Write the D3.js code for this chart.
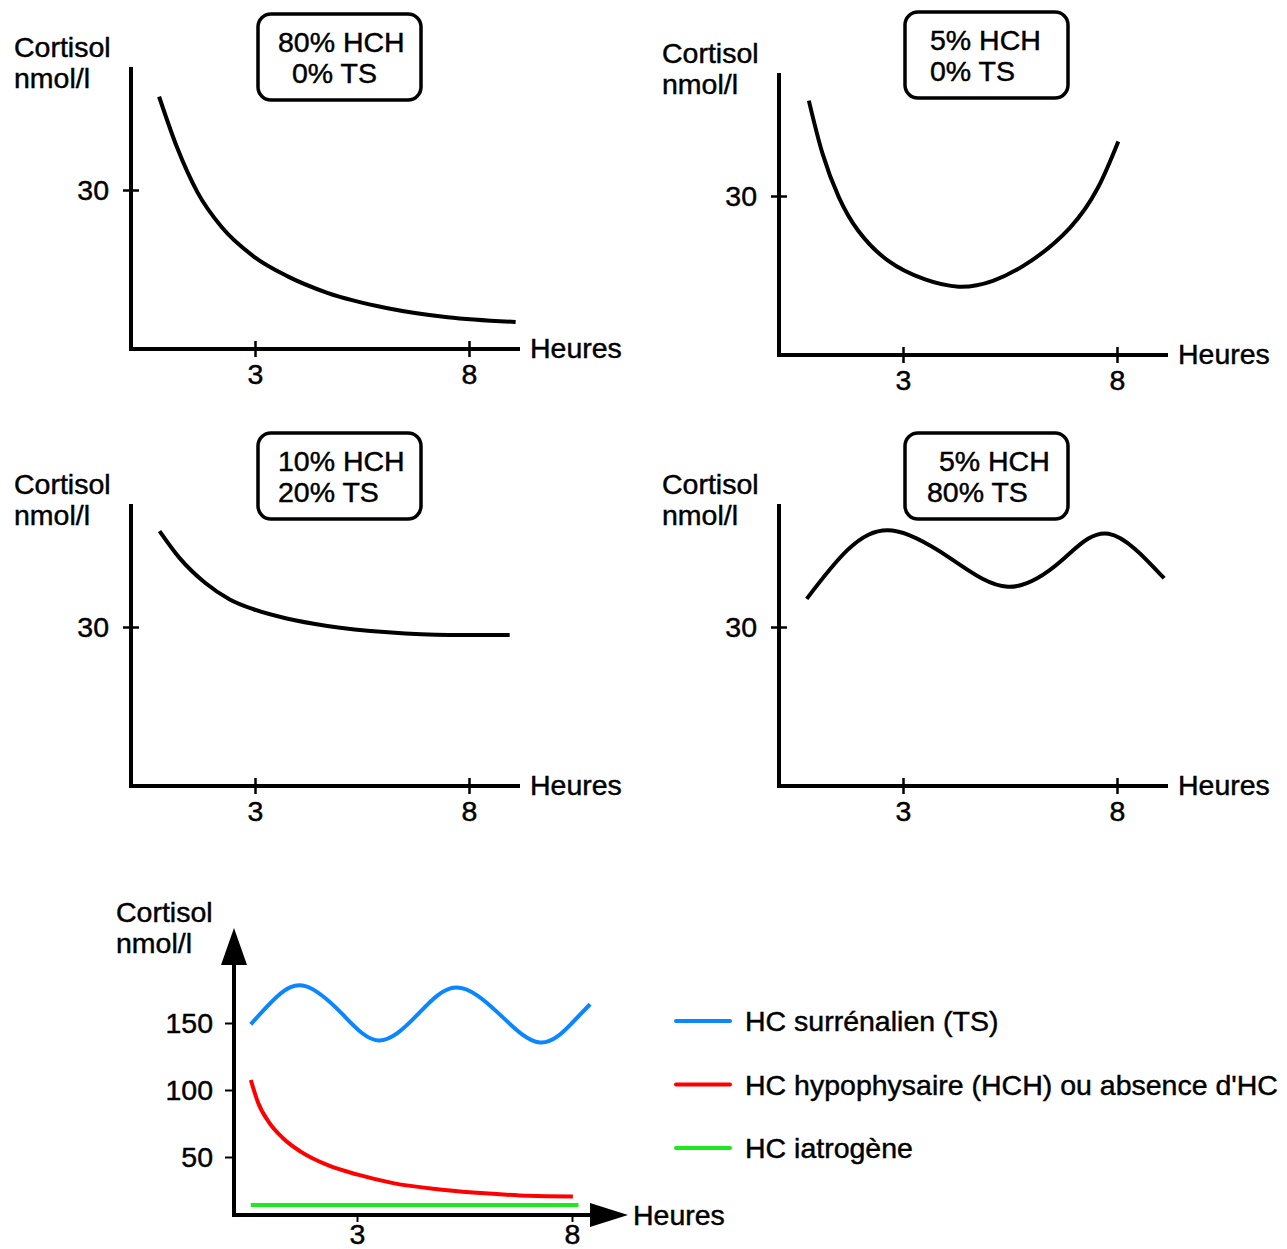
<!DOCTYPE html>
<html>
<head>
<meta charset="utf-8">
<script src="https://cdn.jsdelivr.net/npm/d3@7"></script>
<style>
  html, body { margin: 0; padding: 0; background: #fff; }
  svg text { font-family: "Liberation Sans", Arial, sans-serif; fill: #000; stroke: #000; stroke-width: 0.45px; }
</style>
</head>
<body>
<svg id="chart" width="1287" height="1249"></svg>
<script>
// ---------------- DATA ----------------
const xTickValues = [3, 8];
const yTickValuesSmall = [30];
const yTickValuesBottom = [50, 100, 150];
const yAxisTitle = ["Cortisol", "nmol/l"];
const xAxisTitle = "Heures";

// Panel 1 : 80% HCH / 0% TS
const p1Label = ["80% HCH", "0% TS"];
const p1Hours = [0.76, 1.18, 1.66, 2.22, 2.98, 3.74, 4.69, 6.1, 7.5, 9.09];
const p1Values = [47.6, 38.0, 29.5, 23.0, 17.4, 13.8, 10.6, 7.7, 6.0, 5.1];

// Panel 2 : 5% HCH / 0% TS
const p2Label = ["5% HCH", "0% TS"];
const p2Hours = [0.8, 1.12, 1.5, 1.95, 2.65, 3.5, 4.3, 5.1, 6.0, 6.9, 7.55, 8.03];
const p2Values = [48.0, 38.0, 29.8, 23.5, 17.8, 14.3, 12.9, 14.0, 17.8, 24.0, 31.5, 40.3];

// Panel 3 : 10% HCH / 20% TS
const p3Label = ["10% HCH", "20% TS"];
const p3Hours = [0.77, 1.24, 1.84, 2.41, 2.98, 3.74, 4.69, 6.11, 7.53, 8.95];
const p3Values = [48.1, 43.0, 38.3, 35.2, 33.3, 31.6, 30.2, 29.0, 28.5, 28.5];

// Panel 4 : 5% HCH / 80% TS
const p4Label = [" 5% HCH", "80% TS"];
const p4Hours = [0.75, 1.7, 2.75, 4.1, 5.45, 6.7, 7.8, 9.1];
const p4Values = [35.3, 44.5, 48.2, 43.0, 37.6, 42.5, 47.6, 39.2];

// Bottom panel series
const legendLabels = ["HC surrénalien (TS)", "HC hypophysaire (HCH) ou absence d'HC", "HC iatrogène"];
const seriesColors = ["#0a86ff", "#ff0000", "#1ee81e"];
const tsHours = [0.53, 1.15, 1.8, 2.65, 3.5, 4.4, 5.3, 6.3, 7.25, 8.0, 8.42];
const tsValues = [149, 170, 177.5, 157, 137, 156, 176.5, 157, 135.5, 150, 164];
const hchHours = [0.53, 0.70, 0.95, 1.28, 1.69, 2.35, 3.02, 3.84, 4.92, 6.16, 6.99, 8.02];
const hchValues = [107.5, 90.5, 76.0, 64, 54, 43.5, 36.8, 30.5, 25.8, 22.5, 21, 20.5];
const iatroHours = [0.53, 8.15];
const iatroValues = [14.2, 14.2];

// ---------------- DRAW ----------------
const svg = d3.select("#chart");
const FS = 28.5;
const STROKE = 4;
const fmt = d3.format("d");

const smallPanels = [
  { ox: 131, oy: 349, boxX: 258, boxY: 14, l1dx: 20, l2dx: 34, label: p1Label, hours: p1Hours, values: p1Values, curve: d3.curveMonotoneX },
  { ox: 779, oy: 355, boxX: 905, boxY: 12, l1dx: 25, l2dx: 25, label: p2Label, hours: p2Hours, values: p2Values, curve: d3.curveNatural },
  { ox: 131, oy: 786, boxX: 258, boxY: 433, l1dx: 20, l2dx: 20, label: p3Label, hours: p3Hours, values: p3Values, curve: d3.curveMonotoneX },
  { ox: 779, oy: 786, boxX: 905, boxY: 433, l1dx: 26, l2dx: 22, label: p4Label, hours: p4Hours, values: p4Values, curve: d3.curveNatural }
];

const styleTickText = sel => sel.attr("font-size", FS).attr("font-family", "Liberation Sans, Arial, sans-serif")
  .attr("fill", "#000");

smallPanels.forEach(p => {
  const g = svg.append("g");
  const x = d3.scaleLinear().domain([3, 8]).range([p.ox + 124, p.ox + 338]);
  const y = d3.scaleLinear().domain([0, 30]).range([p.oy, p.oy - 159]);

  g.append("line").attr("x1", p.ox).attr("x2", p.ox).attr("y1", p.oy - 282).attr("y2", p.oy + 2)
    .attr("stroke", "#000").attr("stroke-width", STROKE);
  g.append("line").attr("x1", p.ox - 2).attr("x2", p.ox + 389).attr("y1", p.oy).attr("y2", p.oy)
    .attr("stroke", "#000").attr("stroke-width", STROKE);

  const xAxis = d3.axisBottom(x).tickValues(xTickValues).tickFormat(fmt).tickSize(8);
  const gx = g.append("g").attr("transform", `translate(0,${p.oy})`).call(xAxis);
  gx.select(".domain").remove();
  gx.selectAll(".tick line").attr("y1", -8).attr("y2", 8).attr("stroke", "#000").attr("stroke-width", 2.5);
  gx.selectAll(".tick text").call(styleTickText).attr("y", 35).attr("dy", null);

  const yAxis = d3.axisLeft(y).tickValues(yTickValuesSmall).tickFormat(fmt).tickSize(8);
  const gy = g.append("g").attr("transform", `translate(${p.ox},0)`).call(yAxis);
  gy.select(".domain").remove();
  gy.selectAll(".tick line").attr("x1", -8).attr("x2", 8).attr("stroke", "#000").attr("stroke-width", 2.5);
  gy.selectAll(".tick text").call(styleTickText).attr("x", -22).attr("dy", "0.35em");

  g.append("text").attr("x", p.ox - 117).attr("y", p.oy - 292).attr("font-size", FS).text(yAxisTitle[0]);
  g.append("text").attr("x", p.ox - 117).attr("y", p.oy - 261).attr("font-size", FS).text(yAxisTitle[1]);
  g.append("text").attr("x", p.ox + 399).attr("y", p.oy + 9).attr("font-size", FS).text(xAxisTitle);

  g.append("rect").attr("x", p.boxX).attr("y", p.boxY).attr("width", 163).attr("height", 86)
    .attr("rx", 13).attr("ry", 13).attr("fill", "none").attr("stroke", "#000").attr("stroke-width", 3.5);
  g.append("text").attr("x", p.boxX + p.l1dx).attr("y", p.boxY + 38).attr("font-size", FS)
    .style("white-space", "pre").text(p.label[0]);
  g.append("text").attr("x", p.boxX + p.l2dx).attr("y", p.boxY + 69).attr("font-size", FS).text(p.label[1]);

  const pts = p.hours.map((h, i) => [h, p.values[i]]);
  const line = d3.line().x(d => x(d[0])).y(d => y(d[1])).curve(p.curve);
  g.append("path").attr("d", line(pts)).attr("fill", "none").attr("stroke", "#000")
    .attr("stroke-width", STROKE);
});

// ---------------- Bottom panel ----------------
{
  const ox = 234, oy = 1215;
  const g = svg.append("g");
  const x = d3.scaleLinear().domain([3, 8]).range([357, 572]);
  const y = d3.scaleLinear().domain([50, 150]).range([1157, 1023]);

  g.append("line").attr("x1", ox).attr("x2", ox).attr("y1", 960).attr("y2", oy + 2)
    .attr("stroke", "#000").attr("stroke-width", STROKE);
  g.append("path").attr("d", `M${ox},928 L${ox + 13},965 L${ox - 13},965 Z`).attr("fill", "#000");
  g.append("line").attr("x1", ox - 2).attr("x2", 595).attr("y1", oy).attr("y2", oy)
    .attr("stroke", "#000").attr("stroke-width", STROKE);
  g.append("path").attr("d", `M628,${oy} L590,${oy - 12} L590,${oy + 12} Z`).attr("fill", "#000");

  const xAxis = d3.axisBottom(x).tickValues(xTickValues).tickFormat(fmt).tickSize(7);
  const gx = g.append("g").attr("transform", `translate(0,${oy})`).call(xAxis);
  gx.select(".domain").remove();
  gx.selectAll(".tick line").attr("stroke", "#000").attr("stroke-width", 2);
  gx.selectAll(".tick text").call(styleTickText).attr("y", 29).attr("dy", null);

  const yAxis = d3.axisLeft(y).tickValues(yTickValuesBottom).tickFormat(fmt).tickSize(9);
  const gy = g.append("g").attr("transform", `translate(${ox},0)`).call(yAxis);
  gy.select(".domain").remove();
  gy.selectAll(".tick line").attr("stroke", "#000").attr("stroke-width", 2);
  gy.selectAll(".tick text").call(styleTickText).attr("x", -21).attr("dy", "0.35em");

  g.append("text").attr("x", 116).attr("y", 922).attr("font-size", FS).text(yAxisTitle[0]);
  g.append("text").attr("x", 116).attr("y", 953).attr("font-size", FS).text(yAxisTitle[1]);
  g.append("text").attr("x", 633).attr("y", 1225).attr("font-size", FS).text(xAxisTitle);

  const series = [
    { hours: tsHours, values: tsValues, curve: d3.curveNatural },
    { hours: hchHours, values: hchValues, curve: d3.curveMonotoneX },
    { hours: iatroHours, values: iatroValues, curve: d3.curveLinear }
  ];
  series.forEach((s, i) => {
    const pts = s.hours.map((h, k) => [h, s.values[k]]);
    const line = d3.line().x(d => x(d[0])).y(d => y(d[1])).curve(s.curve);
    g.append("path").attr("d", line(pts)).attr("fill", "none").attr("stroke", seriesColors[i])
      .attr("stroke-width", STROKE);
  });

  const legY = d3.scalePoint().domain(legendLabels).range([1021, 1148]);
  legendLabels.forEach((lab, i) => {
    g.append("line").attr("x1", 676).attr("x2", 730).attr("y1", legY(lab)).attr("y2", legY(lab))
      .attr("stroke", seriesColors[i]).attr("stroke-width", STROKE).attr("stroke-linecap", "round");
    g.append("text").attr("x", 745).attr("y", legY(lab) + 10).attr("font-size", FS).text(lab);
  });
}
</script>
</body>
</html>
